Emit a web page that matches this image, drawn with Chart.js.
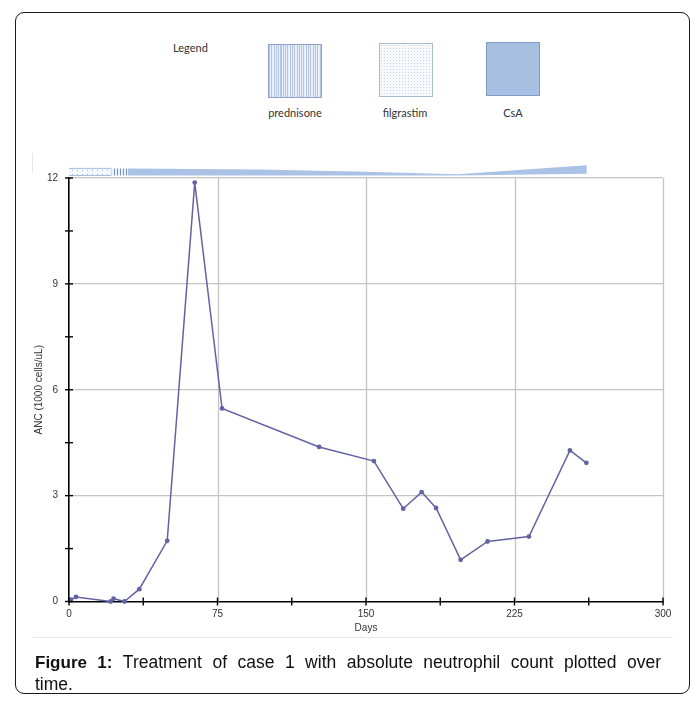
<!DOCTYPE html>
<html><head><meta charset="utf-8">
<script src="https://cdn.jsdelivr.net/npm/chart.js@4.4.0/dist/chart.umd.min.js"></script>
<style>
html,body{margin:0;padding:0;background:#fff;}
body{width:696px;height:704px;position:relative;overflow:hidden;font-family:"Liberation Sans",Arial,sans-serif;}
#frame{position:absolute;left:15px;top:12px;width:675px;height:682px;border:1.3px solid #1a1a1a;border-radius:9px;box-sizing:border-box;}
#imgline{position:absolute;left:33px;top:637px;width:640px;height:1px;background:#e6e6e6;}
#imgleft{position:absolute;left:32px;top:153px;width:1px;height:20px;background:#e6e6e6;}
#chart{position:absolute;left:0;top:0;}
.lg{position:absolute;font-family:Lato,"Open Sans",sans-serif;font-size:11px;color:#333;line-height:14px;}
.lbl{width:100px;text-align:center;}
.sw{position:absolute;width:54px;height:54px;box-sizing:border-box;}
#swP{left:268px;top:44px;border:1px solid #8ea5c9;background:repeating-linear-gradient(90deg,#b3c7e4 0px,#b3c7e4 1px,#e8eff8 1px,#e8eff8 2.3px);}
#swF{left:379px;top:43px;border:1px solid #a9bad3;background-color:#f7f9fc;background-image:radial-gradient(#c5d2e6 0.6px,transparent 0.8px);background-size:3px 3px;}
#swC{left:486px;top:42px;border:1px solid #7f9cc9;background:#a7bfe1;}
#cap1{position:absolute;left:35px;top:651px;width:626px;font-size:17.5px;line-height:22px;color:#111;text-align:justify;text-align-last:justify;}
#cap1 b{font-size:17px;}
#cap2{position:absolute;left:35px;top:673px;font-size:17.5px;line-height:22px;color:#111;}
</style></head>
<body>
<div id="frame"></div>
<div id="imgline"></div>
<div id="imgleft"></div>
<div class="lg" style="left:173px;top:41px;">Legend</div>
<div class="sw" id="swP"></div>
<div class="sw" id="swF"></div>
<div class="sw" id="swC"></div>
<div class="lg lbl" style="left:245px;top:106px;">prednisone</div>
<div class="lg lbl" style="left:355px;top:106px;">filgrastim</div>
<div class="lg lbl" style="left:463px;top:106px;">CsA</div>
<canvas id="chart" width="696" height="704"></canvas>
<div id="cap1"><b>Figure 1:</b>&nbsp;Treatment of case 1 with absolute neutrophil count plotted over</div>
<div id="cap2">time.</div>
<script>
// ---- data ----
const days = [1, 3.5, 21, 22.5, 28, 35.5, 49.6, 63.5, 77.3, 126.3, 154, 168.8, 178.1, 185.4, 197.8, 211.4, 232.3, 253, 261.3];
const anc  = [0.05, 0.13, 0.0, 0.08, 0.0, 0.35, 1.72, 11.87, 5.47, 4.38, 3.98, 2.63, 3.1, 2.65, 1.18, 1.7, 1.84, 4.28, 3.93];
const xTickLabels = [0, 75, 150, 225, 300];
const yTickLabels = [0, 3, 6, 9, 12];

// treatment ribbon (relative band units)
const filgrastimDays = [0, 21.4];
const filgrastimLow  = [1.9, 1.9];
const filgrastimHigh = [7.4, 7.4];
const prednisoneDays = [21.4, 29.6];
const prednisoneLow  = [1.9, 1.9];
const prednisoneHigh = [7.4, 7.4];
const csaDays = [29.6, 96, 150, 196, 261.5];
const csaLow  = [1.9, 1.9, 1.9, 1.9, 3.3];
const csaHigh = [7.3, 6.6, 4.8, 2.8, 9.9];

// ---- patterns ----
function makePattern(w, h, draw) {
  const c = document.createElement('canvas'); c.width = w; c.height = h;
  const g = c.getContext('2d'); draw(g);
  return g.createPattern(c, 'repeat');
}
const dotPat = makePattern(5, 4, g => { g.fillStyle = '#f6f9fd'; g.fillRect(0,0,5,4); g.fillStyle = '#9fb5d8'; g.fillRect(2,2,1,1); });
const stripePat = makePattern(3, 1, g => { g.fillStyle = '#eef3fb'; g.fillRect(0,0,3,1); g.fillStyle = '#6f93cc'; g.fillRect(0,0,1,1); });
const csaPat = makePattern(2, 2, g => { g.fillStyle = '#a3bce2'; g.fillRect(0,0,2,2); g.fillStyle = '#b3c8e8'; g.fillRect(0,0,1,1); g.fillRect(1,1,1,1); });

const pts = (xs, ys) => xs.map((x, i) => ({x, y: ys[i]}));
const band = (xs, ys, fill, bg, border) => ({
  data: pts(xs, ys), yAxisID: 'yBand', pointRadius: 0, borderWidth: border ? 1 : 0,
  borderColor: border || 'transparent', fill: fill, backgroundColor: bg, tension: 0
});

const gridColor = '#c4c4c4';
const gridPlugin = {
  id: 'gridAndTicks',
  beforeDatasetsDraw(chart) {
    const {ctx} = chart; const xs = chart.scales.x, ys = chart.scales.y;
    ctx.save(); ctx.strokeStyle = gridColor; ctx.lineWidth = 1.3;
    xTickLabels.forEach(v => { if (v === 0) return; const px = Math.round(xs.getPixelForValue(v)) + 0.5;
      ctx.beginPath(); ctx.moveTo(px, ys.top); ctx.lineTo(px, ys.bottom); ctx.stroke(); });
    ctx.restore();
  },
  afterDraw(chart) {
    const {ctx} = chart; const xs = chart.scales.x, ys = chart.scales.y;
    const ax = xs.getPixelForValue(0), ay = ys.getPixelForValue(0);
    ctx.save(); ctx.strokeStyle = '#000'; ctx.lineWidth = 1.4;
    for (let i = 0; i < xTickLabels.length; i++) {
      const vals = [xTickLabels[i]]; if (i < xTickLabels.length - 1) vals.push((xTickLabels[i] + xTickLabels[i+1]) / 2);
      vals.forEach(v => { const px = xs.getPixelForValue(v); ctx.beginPath(); ctx.moveTo(px, ay - 4); ctx.lineTo(px, ay + 4); ctx.stroke(); });
    }
    for (let i = 0; i < yTickLabels.length; i++) {
      const vals = [yTickLabels[i]]; if (i < yTickLabels.length - 1) vals.push((yTickLabels[i] + yTickLabels[i+1]) / 2);
      vals.forEach(v => { const py = ys.getPixelForValue(v); ctx.beginPath(); ctx.moveTo(ax - 4, py); ctx.lineTo(ax + 4, py); ctx.stroke(); });
    }
    ctx.restore();
  }
};

const tickFont = {family: '"Liberation Sans", Arial, sans-serif', size: 10};
new Chart(document.getElementById('chart'), {
  type: 'line',
  data: {
    datasets: [
      { data: pts(days, anc), xAxisID: 'x', yAxisID: 'y', borderColor: '#6363a3', backgroundColor: '#6363a3',
        borderWidth: 1.5, pointRadius: 2.4, pointHoverRadius: 2.4, pointBorderWidth: 0, fill: false, tension: 0, clip: false },
      band(filgrastimDays, filgrastimLow, false, 'transparent', '#a9bde0'),
      band(filgrastimDays, filgrastimHigh, '-1', dotPat, '#a9bde0'),
      band(prednisoneDays, prednisoneLow, false, 'transparent', null),
      band(prednisoneDays, prednisoneHigh, '-1', stripePat, null),
      band(csaDays, csaLow, false, 'transparent', null),
      band(csaDays, csaHigh, '-1', csaPat, null)
    ]
  },
  options: {
    responsive: false, animation: false, devicePixelRatio: 1,
    layout: {padding: {left: 20, top: 165, right: 33, bottom: 66.5}},
    plugins: {legend: {display: false}, tooltip: {enabled: false}},
    scales: {
      x: {
        type: 'linear', position: 'bottom', min: 0, max: 300,
        afterBuildTicks: s => { s.ticks = xTickLabels.map(v => ({value: v})); },
        afterFit: s => { s.height = 36; },
        grid: {display: false, drawTicks: false},
        border: {display: true, color: '#000', width: 1.6},
        ticks: {padding: 7, font: tickFont, color: '#333', maxRotation: 0},
        title: {display: true, text: 'Days', font: tickFont, color: '#333', padding: {top: 2, bottom: 3}}
      },
      y: {
        type: 'linear', position: 'left', stack: 'v', stackWeight: 423.5, min: 0, max: 12,
        afterBuildTicks: s => { s.ticks = yTickLabels.map(v => ({value: v})); },
        afterFit: s => { s.width = 49; },
        grid: {drawTicks: false, lineWidth: 1.3, color: c => (c.tick && c.tick.value === 0) ? 'rgba(0,0,0,0)' : gridColor},
        border: {display: true, color: '#000', width: 1.6},
        ticks: {padding: 11, font: tickFont, color: '#333'},
        title: {display: true, text: 'ANC (1000 cells/uL)', font: tickFont, color: '#333', padding: {top: 13, bottom: 0}}
      },
      yBand: {
        type: 'linear', position: 'left', stack: 'v', stackWeight: 13, min: 0, max: 10,
        afterFit: s => { s.width = 0; },
        grid: {display: false, drawTicks: false}, border: {display: false},
        ticks: {display: false}, title: {display: false}
      }
    }
  },
  plugins: [gridPlugin]
});
</script>
</body></html>
